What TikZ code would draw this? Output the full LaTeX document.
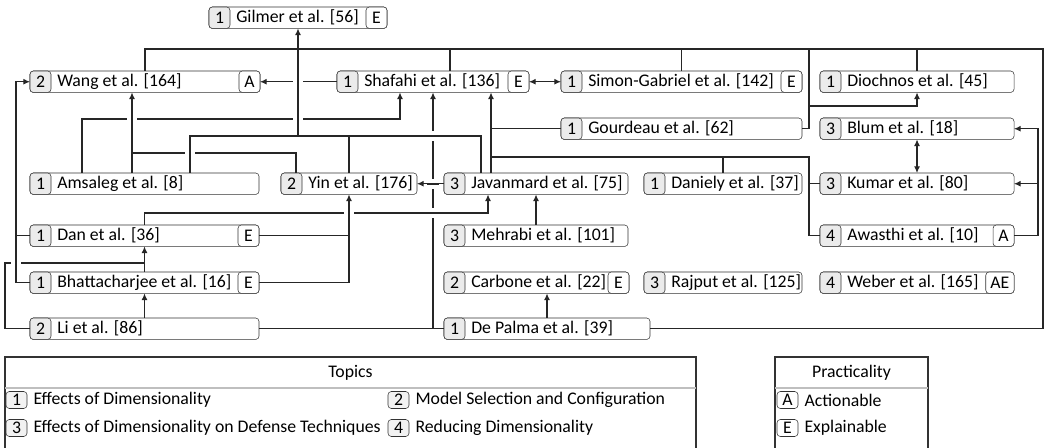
\documentclass[tikz,border=0pt]{standalone}
\usepackage{fontspec}
\setmainfont{Carlito}
\usepackage{tikz}
\usetikzlibrary{arrows.meta}
\tikzstyle{paperbox} = [rectangle, rounded corners=2.5pt, draw=black!80, fill=white, minimum height=16.1pt, inner sep=0pt, outer sep=0pt]
\tikzstyle{topicbox} = [rectangle, rounded corners=2.5pt, draw=black!80, fill=black!8, minimum width=15.75pt, minimum height=16.1pt, inner sep=0pt, outer sep=0pt]
\tikzstyle{tagbox} = [rectangle, rounded corners=2.5pt, draw=black!80, fill=white, minimum width=15.75pt, minimum height=16.1pt, inner xsep=3.5pt, inner ysep=0pt, outer sep=0pt]
\tikzstyle{papertext} = [inner sep=0pt, anchor=west]
\tikzstyle{keybox} = [rectangle, rounded corners=2.5pt, draw=black!80, fill=black!5, minimum width=15.75pt, minimum height=12.75pt, inner sep=0pt]
\tikzstyle{frame} = [draw=black!80, line width=0.8pt]
\tikzstyle{rule} = [draw=black!25, line width=0.8pt]
\tikzstyle{link} = [draw=black!85, line width=0.8pt]
\tikzstyle{arrow} = [link, -{Latex[length=5pt,width=4.5pt]}]
\tikzstyle{both} = [link, {Latex[length=5pt,width=4.5pt]}-{Latex[length=5pt,width=4.5pt]}]
% one paper: name, top left corner, width (px), topic, text
\newcommand{\paper}[5]{%
  \node[paperbox, minimum width=#3*0.75pt, anchor=north west] (#1) at (#2) {};
  \node[topicbox, anchor=west] (#1num) at (#1.west) {#4};
  \node[papertext] (#1txt) at ([xshift=4.5pt]#1num.east) {#5};}
\newcommand{\prac}[2]{\node[tagbox, anchor=east] (#1tag) at (#1.east) {#2};}
% line jumps
\newcommand{\hopv}[2]{\fill[white] (#1-5,#2-2) rectangle (#1+5,#2+2); \draw[link] (#1,#2-6) -- (#1,#2+6);}
\newcommand{\hoph}[2]{\fill[white] (#1-2,#2-5) rectangle (#1+2,#2+5); \draw[link] (#1-6,#2) -- (#1+6,#2);}

\begin{document}
\begin{tikzpicture}[x=0.75pt, y=-0.75pt, font=\fontsize{13.3}{15}\selectfont]
	\useasboundingbox (0,0) rectangle (1048,448);

	\paper{gilmer}{209,7}{178}{1}{Gilmer et al. [56]} \prac{gilmer}{E}
	\paper{wang}{30,71}{230}{2}{Wang et al. [164]} \prac{wang}{A}
	\paper{shafahi}{337,71}{192}{1}{Shafahi et al. [136]} \prac{shafahi}{E}
	\paper{simon}{561,71}{241}{1}{Simon-Gabriel et al. [142]} \prac{simon}{E}
	\paper{diochnos}{820,71}{194}{1}{Diochnos et al. [45]}
	\paper{gourdeau}{561,118}{241}{1}{Gourdeau et al. [62]}
	\paper{blum}{820,118}{194}{3}{Blum et al. [18]}
	\paper{amsaleg}{30,173}{229}{1}{Amsaleg et al. [8]}
	\paper{yin}{281,173}{136}{2}{Yin et al. [176]}
	\paper{javanmard}{444,173}{184}{3}{Javanmard et al. [75]}
	\paper{daniely}{644,173}{158}{1}{Daniely et al. [37]}
	\paper{kumar}{820,173}{194}{3}{Kumar et al. [80]}
	\paper{dan}{30,225}{229}{1}{Dan et al. [36]} \prac{dan}{E}
	\paper{mehrabi}{444,225}{184}{3}{Mehrabi et al. [101]}
	\paper{awasthi}{820,225}{194}{4}{Awasthi et al. [10]} \prac{awasthi}{A}
	\paper{bhatt}{30,272}{229}{1}{Bhattacharjee et al. [16]} \prac{bhatt}{E}
	\paper{carbone}{444,272}{185}{2}{Carbone et al. [22]} \prac{carbone}{E}
	\paper{rajput}{644,272}{158}{3}{Rajput et al. [125]}
	\paper{weber}{820,272}{194}{4}{Weber et al. [165]} \prac{weber}{AE}
	\paper{li}{30,318}{229}{2}{Li et al. [86]}
	\paper{depalma}{444,318}{206}{1}{De Palma et al. [39]}

	% top bus
	\draw[link] (wang.north) |- (1043,49) |- (depalma.east);
	\draw[link] (shafahi.north -| 450,0) -- (450,49);
	\draw[link] (simon.north) -- (simon.north |- 0,49);
	\draw[link] (diochnos.north) -- (diochnos.north |- 0,49);
	\draw[link] (gourdeau.east) -| (809,49);
	\draw[arrow] (gourdeau.east) -| (809,106) -| (diochnos.south);

	% into Gilmer
	\draw[link] (amsaleg.north -| 190,0) |- (481,136) -- (javanmard.north -| 481,0);
	\draw[link] (yin.north) -- (yin.north |- 0,136);
	\draw[arrow] (gilmer.south |- 0,136) -- (gilmer.south);

	% into Wang
	\draw[arrow] (amsaleg.north -| 132,0) -- (wang.south -| 132,0);
	\draw[link] (yin.north -| 296,0) |- (132,153);
	\draw[arrow] (shafahi.west) -- (wang.east);
	\draw[arrow] (bhatt.west) -| (wang.west -| 16,0) -- (wang.west);
	\draw[link] (dan.west) -- (dan.west -| 16,0);

	% into Shafahi
	\draw[arrow] (amsaleg.north -| 82,0) |- (400,119) -- (shafahi.south -| 400,0);
	\draw[link] (li.east) -- (depalma.west);
	\draw[arrow] (shafahi.south |- li.east) -- (shafahi.south);
	\draw[arrow] (javanmard.north -| 491,0) -- (shafahi.south -| 491,0);
	\draw[link] (gourdeau.west) -- (gourdeau.west -| 491,0);
	\draw[link] (awasthi.west) -| (809,157) -- (491,157);
	\draw[link] (kumar.west) -- (kumar.west -| 809,0);
	\draw[link] (daniely.north) -- (daniely.north |- 0,157);
	\draw[both] (shafahi.east) -- (simon.west);

	% into Yin and Javanmard
	\draw[arrow] (javanmard.west) -- (yin.east);
	\draw[arrow] (dan.north) |- (488,213) -- (javanmard.south -| 488,0);
	\draw[arrow] (bhatt.east) -| (yin.south);
	\draw[link] (dan.east) -- (dan.east -| yin.south);
	\draw[arrow] (mehrabi.north) -- (javanmard.south);
	\draw[arrow] (depalma.north) -- (depalma.north |- carbone.south);

	% into Dan and Bhattacharjee
	\draw[arrow] (li.north) -- (bhatt.south);
	\draw[arrow] (bhatt.north) -- (dan.south);
	\draw[link] (li.west) -| (5,263) -- (dan.south |- 0,263);

	% right side
	\draw[arrow] (awasthi.east) -| (blum.east -| 1038,0) -- (blum.east);
	\draw[arrow] (kumar.east -| 1038,0) -- (kumar.east);
	\draw[both] (blum.south) -- (kumar.north);

	\hopv{298}{82} \hopv{132}{119} \hopv{298}{119} \hopv{190}{153} \hopv{349}{213} \hopv{16}{263}
	\hoph{433}{136} \hoph{433}{184} \hoph{433}{213}

	% legend
	\draw[frame] (5,448) |- (696,357) -- (696,448);
	\draw[rule] (5,388) -- (696,388);
	\node (topics) at (350.5,372.5) {Topics};
	\node[keybox] (key1) at (16.5,400) {1};
	\node[papertext] (key1txt) at ([xshift=4.5pt]key1.east) {Effects of Dimensionality};
	\node[keybox] (key2) at (398.5,400) {2};
	\node[papertext] (key2txt) at ([xshift=4.5pt]key2.east) {Model Selection and Configuration};
	\node[keybox] (key3) at (16.5,428) {3};
	\node[papertext] (key3txt) at ([xshift=4.5pt]key3.east) {Effects of Dimensionality on Defense Techniques};
	\node[keybox] (key4) at (398.5,428) {4};
	\node[papertext] (key4txt) at ([xshift=4.5pt]key4.east) {Reducing Dimensionality};

	\draw[frame] (775,448) |- (928,357) -- (928,448);
	\draw[rule] (775,388) -- (928,388);
	\node (practicality) at (851.5,372.5) {Practicality};
	\node[keybox, fill=white] (keyA) at (787.5,400) {A};
	\node[papertext] (keyAtxt) at ([xshift=4.5pt]keyA.east) {Actionable};
	\node[keybox, fill=white] (keyE) at (787.5,428) {E};
	\node[papertext] (keyEtxt) at ([xshift=4.5pt]keyE.east) {Explainable};
\end{tikzpicture}
\end{document}
